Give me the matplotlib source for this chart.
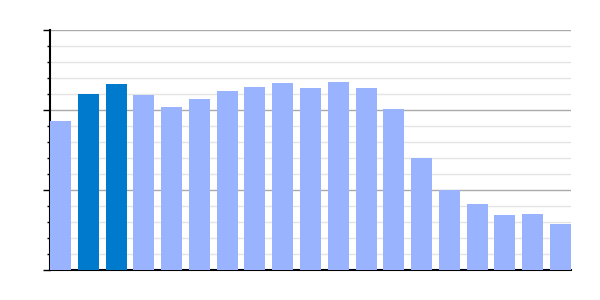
import matplotlib
matplotlib.use("Agg")
import matplotlib.pyplot as plt
import numpy as np

categories = list(range(19))
values = [1.8625, 2.2, 2.325, 2.1875, 2.0375, 2.1375, 2.2375, 2.2875, 2.3375,
          2.275, 2.35, 2.275, 2.0125, 1.4, 1.0, 0.825, 0.6875, 0.7, 0.575]
highlight = [1, 2]

light = "#99b3ff"
dark = "#007acc"
colors = [dark if i in highlight else light for i in categories]

fig = plt.figure(figsize=(6, 3), dpi=100)
ax = fig.add_axes([50/600, 30/300, 521/600, 240/300])
w = 0.756
ax.bar(categories, values, width=w, color=colors, zorder=3)
ax.set_xlim(-w/2, 18 + w/2)
ax.set_ylim(0, 3)
ax.set_yticks([0, 1, 2, 3])
ax.set_yticks(np.arange(0, 3.01, 0.2), minor=True)
ax.yaxis.grid(True, which="major", color="#aaaaaa", linewidth=1, zorder=0)
ax.yaxis.grid(True, which="minor", color="#e5e5e5", linewidth=1, zorder=0)
ax.set_axisbelow(True)
ax.tick_params(axis="y", which="major", length=5, width=1, direction="out", labelleft=False, color="black")
ax.tick_params(axis="y", which="minor", length=2, width=1, direction="out", color="black")
ax.tick_params(axis="x", which="both", length=0, labelbottom=False)
for s in ["top", "right"]:
    ax.spines[s].set_visible(False)
ax.spines["left"].set_linewidth(1.5)
ax.spines["bottom"].set_linewidth(1.5)
ax.spines["left"].set_color("black")
ax.spines["bottom"].set_color("black")
fig.savefig("out.png", dpi=100)
